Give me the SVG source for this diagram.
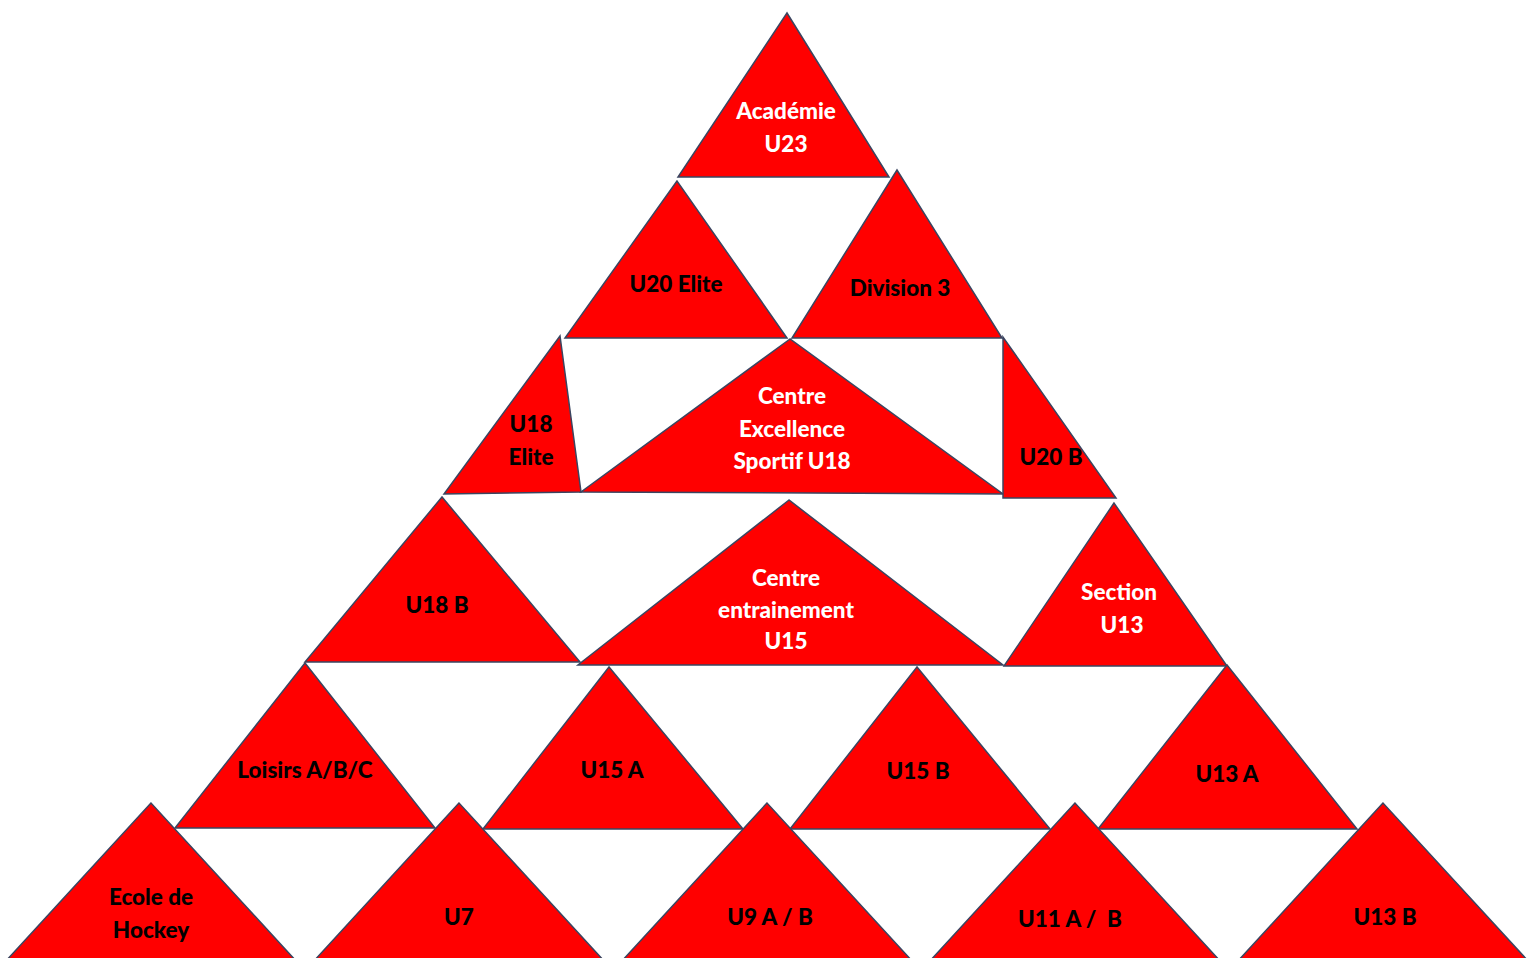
<svg xmlns="http://www.w3.org/2000/svg" width="1532" height="958" viewBox="0 0 1532 958">
<style>
.t{fill:#FF0000;stroke:#3A4560;stroke-width:1.5;stroke-linejoin:miter}
text{font-family:Lato,"Open Sans","Liberation Sans",sans-serif;font-weight:900;font-size:22.5px;text-anchor:middle;dominant-baseline:central}
.w{fill:#FFFFFF}
.b{fill:#000000}
</style>
<rect width="1532" height="958" fill="#FFFFFF"/>
<g id="academie"><polygon class="t" points="787,13 678,177 889,177"/><text class="w" x="786" y="110">Académie</text><text class="w" x="786" y="143">U23</text></g>
<g id="u20elite"><polygon class="t" points="677,181 565,338 787,338"/><text class="b" x="676" y="283">U20 Elite</text></g>
<g id="division3"><polygon class="t" points="897,170 792,338 1002,338"/><text class="b" x="900" y="287">Division 3</text></g>
<g id="u18elite"><polygon class="t" points="560,336 444,494 581,492"/><text class="b" x="531" y="423">U18</text><text class="b" x="531" y="456">Elite</text></g>
<g id="centreexcellence"><polygon class="t" points="790,339 581,492 1003,494"/><text class="w" x="792" y="395">Centre</text><text class="w" x="792" y="428">Excellence</text><text class="w" x="792" y="460">Sportif U18</text></g>
<g id="u20b"><polygon class="t" points="1003,337 1003,498 1116,498"/><text class="b" x="1051" y="456">U20 B</text></g>
<g id="u18b"><polygon class="t" points="442,497 305,662 580,662"/><text class="b" x="437" y="604">U18 B</text></g>
<g id="centreentrainement"><polygon class="t" points="789,500 578,665 1003,665"/><text class="w" x="786" y="577">Centre</text><text class="w" x="786" y="609">entrainement</text><text class="w" x="786" y="640">U15</text></g>
<g id="sectionu13"><polygon class="t" points="1114,503 1004,666 1227,666"/><text class="w" x="1119" y="591">Section</text><text class="w" x="1122" y="624">U13</text></g>
<g id="loisirs"><polygon class="t" points="305,663 175,828 435,828"/><text class="b" x="305" y="769">Loisirs A/B/C</text></g>
<g id="u15a"><polygon class="t" points="609,667 483,829 743,829"/><text class="b" x="612" y="769">U15 A</text></g>
<g id="u15b"><polygon class="t" points="917,667 790,829 1050,829"/><text class="b" x="918" y="770">U15 B</text></g>
<g id="u13a"><polygon class="t" points="1227,665 1098,829 1357,829"/><text class="b" x="1227" y="773">U13 A</text></g>
<g id="ecole"><polygon class="t" points="151,803 5,962 297,962"/><text class="b" x="151" y="896">Ecole de</text><text class="b" x="151" y="929">Hockey</text></g>
<g id="u7"><polygon class="t" points="459,803 313,962 605,962"/><text class="b" x="459" y="916">U7</text></g>
<g id="u9"><polygon class="t" points="767,803 621,962 913,962"/><text class="b" x="770" y="916">U9 A / B</text></g>
<g id="u11"><polygon class="t" points="1075,803 929,962 1221,962"/><text class="b" x="1070" y="918" xml:space="preserve">U11 A /  B</text></g>
<g id="u13b"><polygon class="t" points="1383,803 1237,962 1529,962"/><text class="b" x="1385" y="916">U13 B</text></g>
<g id="connectors"></g>
</svg>
